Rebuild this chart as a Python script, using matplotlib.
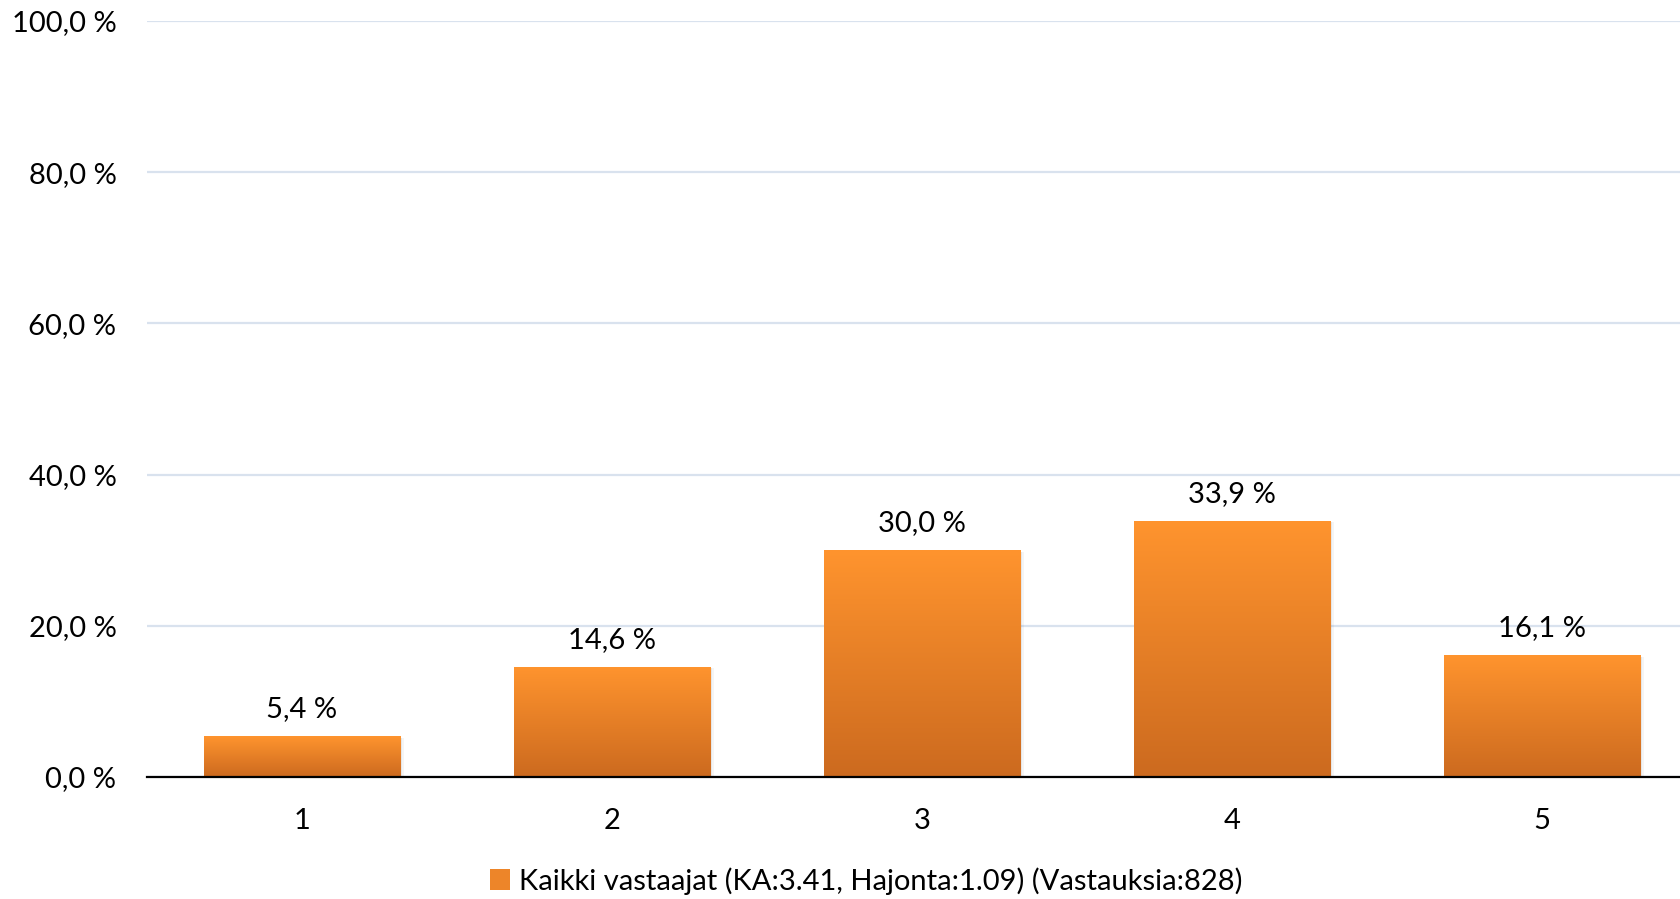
import numpy as np
import matplotlib
matplotlib.use("Agg")
import matplotlib.pyplot as plt
from matplotlib.patches import Patch

categories = ["1", "2", "3", "4", "5"]
values = [5.4, 14.6, 30.0, 33.9, 16.1]
yticks = [0, 20, 40, 60, 80, 100]
legend_label = "Kaikki vastaajat (KA:3.41, Hajonta:1.09) (Vastauksia:828)"

plt.rcParams['font.family'] = ['Lato', 'DejaVu Sans']
FS = 21

W, H = 1681, 899
fig = plt.figure(figsize=(W / 100, H / 100), dpi=100)
left_px, right_px = 147, 1681
bottom_px, top_px = 777, 21
ax = fig.add_axes([left_px / W, (H - bottom_px) / H, (right_px - left_px) / W, (bottom_px - top_px) / H])

x = np.arange(len(categories))
bar_w = 0.635
top_col = np.array([255, 148, 46]) / 255
bot_col = np.array([204, 106, 31]) / 255
bars = ax.bar(x, values, width=bar_w, color="none", zorder=3)
grad = np.linspace(0, 1, 256)[:, None]
cmap_img = (top_col[None, None, :] * (1 - grad[:, :, None]) + bot_col[None, None, :] * grad[:, :, None])
for b in bars:
    x0, y0 = b.get_x(), b.get_y()
    w, h = b.get_width(), b.get_height()
    # soft shadow
    for k, a in [(0.006, 0.06), (0.012, 0.04)]:
        ax.bar(x0 + w / 2 + k, h, width=w, bottom=-0.2, color=(0, 0, 0, a), zorder=2, linewidth=0)
    im = ax.imshow(cmap_img, extent=[x0, x0 + w, y0, y0 + h], aspect="auto", zorder=3, interpolation="bilinear")
    im.set_clip_path(b)

for xi, v in zip(x, values):
    ax.annotate(f"{v:.1f} %".replace(".", ","), (xi, v), xytext=(0, 10), textcoords="offset points",
                ha="center", va="bottom", fontsize=FS, color="#000000", zorder=5)

step_px = 310
ax.set_xlim(-0.5, -0.5 + (right_px - left_px) / step_px)
ax.set_ylim(0, 100)
ax.set_yticks(yticks)
ax.set_yticklabels([f"{t:.1f} %".replace(".", ",") for t in yticks])
ax.set_xticks(x)
ax.set_xticklabels(categories)
ax.tick_params(axis="both", length=0, labelsize=FS, colors="#000000")
ax.tick_params(axis="y", pad=22)
ax.tick_params(axis="x", pad=22)
ax.yaxis.grid(True, color="#D9E2EE", linewidth=1.6, zorder=0)
ax.set_axisbelow(True)
for s in ["top", "right", "left"]:
    ax.spines[s].set_visible(False)
ax.spines["bottom"].set_color("#000000")
ax.spines["bottom"].set_linewidth(1.6)
ax.spines["bottom"].set_zorder(6)

handle = Patch(facecolor=(0.93, 0.52, 0.16), edgecolor="none")
fig.legend([handle], [legend_label], loc="center", bbox_to_anchor=(866 / W, 1 - 881 / H),
           frameon=False, fontsize=FS, handlelength=0.7, handleheight=0.7, handletextpad=0.3)

fig.savefig("out.png", dpi=100)
